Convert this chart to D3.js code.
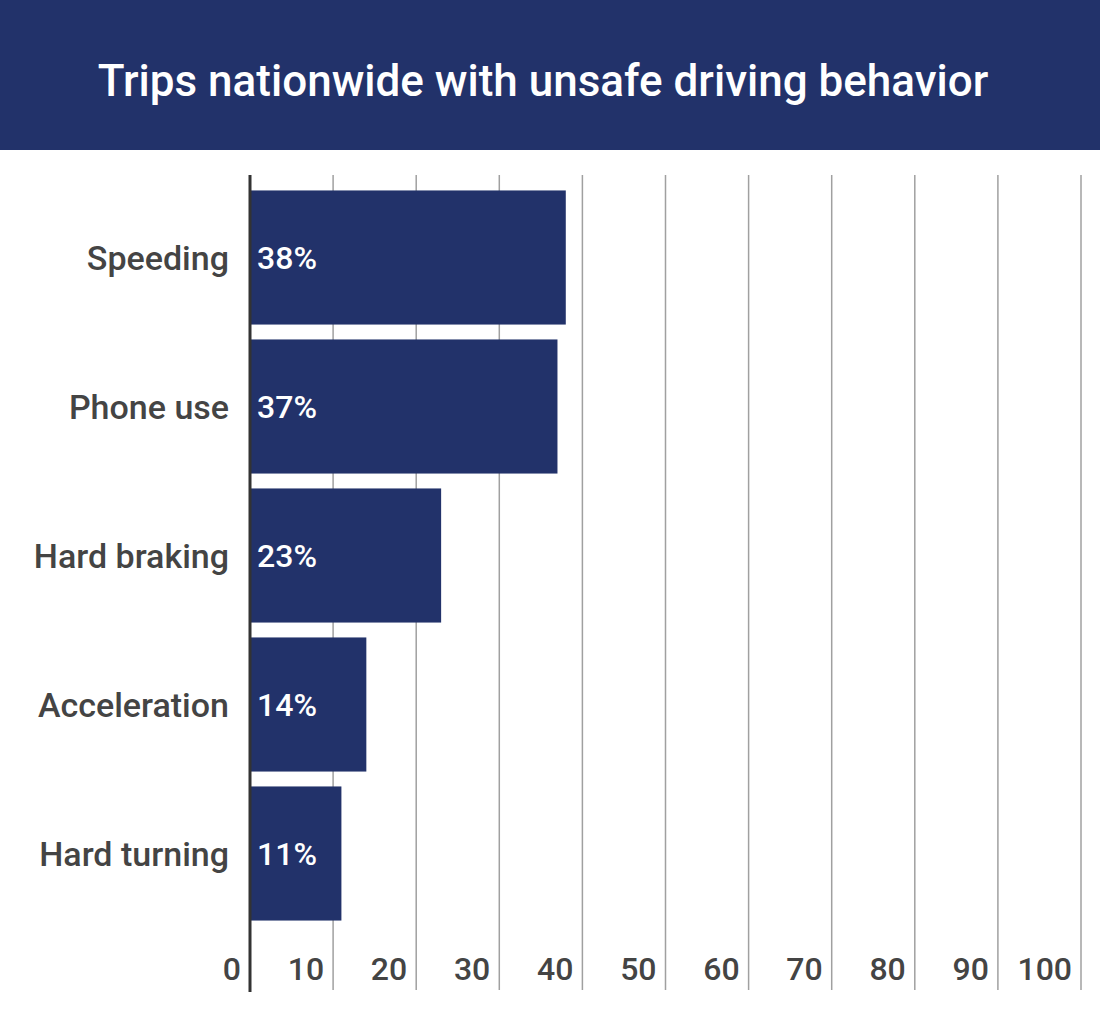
<!DOCTYPE html>
<html lang="en">
<head>
<meta charset="UTF-8">
<title>Trips nationwide with unsafe driving behavior</title>
<script src="https://d3js.org/d3.v7.min.js"></script>
<style>
  body { margin: 0; background: #fff; }
  text { font-family: Roboto, "Noto Sans", sans-serif; }
</style>
</head>
<body>
<svg id="chart"></svg>
<script>
const categories = ["Speeding", "Phone use", "Hard braking", "Acceleration", "Hard turning"];
const values = [38, 37, 23, 14, 11];
const ticks = [0, 10, 20, 30, 40, 50, 60, 70, 80, 90, 100];

const width = 1100, height = 1019;
const navy = "#22326a";
const svg = d3.select("#chart").attr("width", width).attr("height", height);

// header
svg.append("rect").attr("width", width).attr("height", 150).attr("fill", navy);
svg.append("text").attr("x", 543).attr("y", 96).attr("text-anchor", "middle")
  .attr("fill", "#fff").attr("font-size", 44).attr("font-weight", 500)
  .text("Trips nationwide with unsafe driving behavior");

const x = d3.scaleLinear().domain([0, 100]).range([250, 1081]);
const y = d3.scaleBand().domain(categories).range([183, 928]).paddingInner(0.1).paddingOuter(0.05);

// gridlines
svg.append("g").selectAll("line").data(ticks.slice(1)).join("line")
  .attr("x1", d => x(d)).attr("x2", d => x(d)).attr("y1", 175).attr("y2", 990)
  .attr("stroke", "#a0a0a0").attr("stroke-width", 1.5);

// tick labels
svg.append("g").selectAll("text").data(ticks).join("text")
  .attr("x", d => x(d) - 9).attr("y", 980).attr("text-anchor", "end")
  .attr("fill", "#444").attr("font-size", 32).attr("font-weight", 500)
  .text(d => d);

// bars
svg.append("g").selectAll("rect").data(values).join("rect")
  .attr("x", x(0)).attr("y", (d, i) => y(categories[i]))
  .attr("width", d => x(d) - x(0)).attr("height", y.bandwidth())
  .attr("fill", navy);

// value labels
svg.append("g").selectAll("text").data(values).join("text")
  .attr("x", x(0) + 7).attr("y", (d, i) => y(categories[i]) + y.bandwidth() / 2 + 11)
  .attr("fill", "#fff").attr("font-size", 32).attr("font-weight", 500)
  .text(d => d + "%");

// category labels
svg.append("g").selectAll("text").data(categories).join("text")
  .attr("x", 229).attr("y", d => y(d) + y.bandwidth() / 2 + 12)
  .attr("text-anchor", "end").attr("fill", "#444").attr("font-size", 34).attr("font-weight", 500)
  .text(d => d);

// zero line
svg.append("line").attr("x1", x(0)).attr("x2", x(0)).attr("y1", 175).attr("y2", 992)
  .attr("stroke", "#333").attr("stroke-width", 3);
</script>
</body>
</html>
